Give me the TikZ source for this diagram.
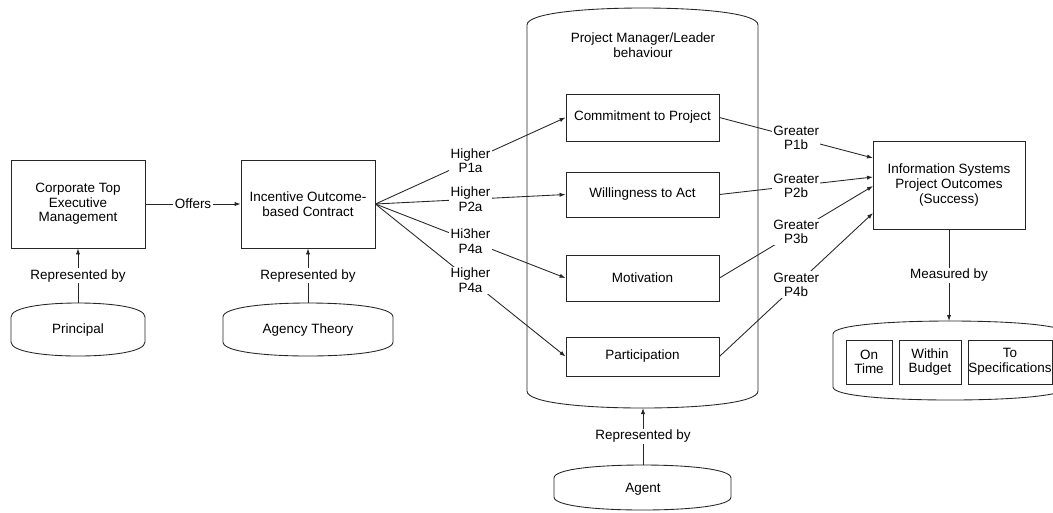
\documentclass[tikz,border=0pt]{standalone}
\usepackage{fontspec}
\setmainfont{Liberation Sans}
\usetikzlibrary{arrows.meta}
\tikzset{
  px/.style={x=0.75pt,y=-0.75pt},
  line/.style={draw=black!85,line width=0.65pt},
  arr/.style={line,-{Latex[length=4.5pt,width=3.2pt]}},
  box/.style 2 args={draw=black!85,line width=0.65pt,minimum width=#1*0.75pt,minimum height=#2*0.75pt,inner sep=1pt,align=center},
  lbl/.style={fill=white,inner sep=1pt,align=center},
  every node/.style={font=\fontsize{10.1}{11}\selectfont}
}
\newcommand\blobshape[5]{%
  \pgfmathsetmacro\bxm{(#1+#2)/2}%
  \pgfmathsetmacro\bw{#2-#1}%
  \draw[line] (#1,#3+#5) .. controls (#1,#3+0.3*#5) and (#1+0.25*\bw,#3) .. (\bxm,#3)
    .. controls (#2-0.25*\bw,#3) and (#2,#3+0.3*#5) .. (#2,#3+#5)
    -- (#2,#4-#5) .. controls (#2,#4-0.3*#5) and (#2-0.25*\bw,#4) .. (\bxm,#4)
    .. controls (#1+0.25*\bw,#4) and (#1,#4-0.3*#5) .. (#1,#4-#5) -- cycle;}
\begin{document}
\begin{tikzpicture}[px]
\useasboundingbox (0,0) rectangle (1053,512);
\clip (0,0) rectangle (1053,512);
\fill[white] (0,0) rectangle (1053,512);

% shapes with curved top/bottom
\blobshape{11}{145}{303}{356}{14}
\blobshape{223}{393}{303}{356}{14}
\blobshape{527}{758}{8}{408}{17}
\blobshape{554}{731}{465}{510}{13}
\blobshape{833}{1067}{321}{400}{13}

\node (principal) at (78,330) {Principal};
\node (agency) at (308,330) {Agency Theory};
\node (agent) at (643,489) {Agent};
\node[align=center] (pmtitle) at (643,45.5) {Project Manager/Leader\\behaviour};
\coordinate (principaltop) at (78,303);
\coordinate (agencytop) at (308,303);
\coordinate (agenttop) at (643,465);
\coordinate (pmbottom) at (643,408);
\coordinate (measuretop) at (949,321);

% boxes
\node[box={134}{88}] (b1) at (78,204) {Corporate Top\\Executive\\Management};
\node[box={134}{88}] (b2) at (308,204) {Incentive Outcome-\\based Contract};
\node[box={153}{47}] (commit) at (642.5,117.5) {Commitment to Project};
\node[box={153}{45}] (will) at (642.5,194.5) {Willingness to Act};
\node[box={153}{46}] (motiv) at (642.5,278) {Motivation};
\node[box={153}{39}] (partic) at (642.5,356.5) {Participation};
\node[box={152}{88}] (is) at (949,185) {Information Systems\\Project Outcomes\\(Success)};
\node[box={46}{44}] (ontime) at (869,362) {On\\Time};
\node[box={62}{44}] (within) at (930,362) {Within\\Budget};
\node[box={84}{44},inner sep=0pt] (tospec) at (1010,362) {To\\Specifications};

\coordinate (in1) at (873,158);
\coordinate (in2) at (873,177);
\coordinate (in3) at (873,186);
\coordinate (in4) at (873,213);

% connectors
\draw[arr] (b1.east) -- node[lbl]{Offers} (b2.west);
\draw[arr] (principaltop) -- node[lbl]{Represented by} (b1.south);
\draw[arr] (agencytop) -- node[lbl]{Represented by} (b2.south);
\draw[arr] (agenttop) -- node[lbl]{Represented by} (pmbottom);
\draw[arr] (is.south) -- node[lbl]{Measured by} (measuretop);

\draw[arr] (b2.east) -- node[lbl]{Higher\\P1a} (commit.west);
\draw[arr] (b2.east) -- node[lbl]{Higher\\P2a} (will.west);
\draw[arr] (b2.east) -- node[lbl]{Hi3her\\P4a} (motiv.west);
\draw[arr] (b2.east) -- node[lbl]{Higher\\P4a} (partic.west);

\draw[arr] (commit.east) -- node[lbl]{Greater\\P1b} (in1);
\draw[arr] (will.east) -- node[lbl]{Greater\\P2b} (in2);
\draw[arr] (motiv.east) -- node[lbl]{Greater\\P3b} (in3);
\draw[arr] (partic.east) -- node[lbl]{Greater\\P4b} (in4);
\end{tikzpicture}
\end{document}
